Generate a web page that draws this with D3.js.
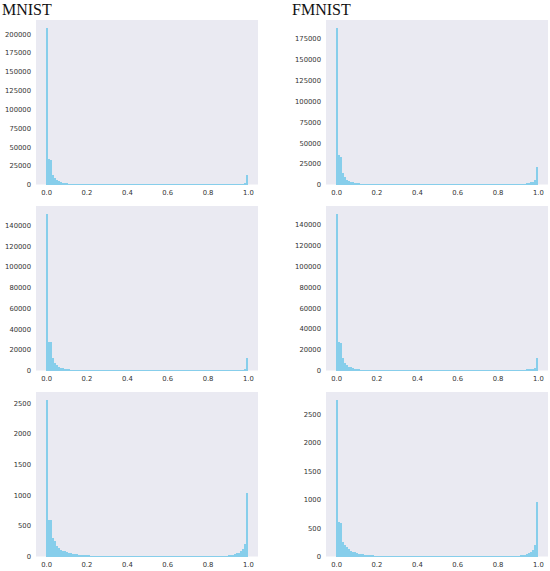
<!DOCTYPE html>
<html>
<head>
<meta charset="utf-8">
<script src="https://cdn.jsdelivr.net/npm/d3@7"></script>
<style>
  html, body { margin: 0; padding: 0; background: #ffffff; }
  svg { display: block; }
</style>
</head>
<body>
<svg id="chart" width="550" height="571"></svg>
<script>
// ---------- DATA (100 bins on [0,1], bin width 0.01) ----------
const binEdgesStart = 0, binEdgesEnd = 1, binCount = 100;

const mnistTop = [
  208000, 34000, 33000, 13000, 8000, 5500, 4000, 3000, 2300, 1800,
  1400, 1100, 900, 700, 560, 450, 360, 290, 230, 180,
  150, 120, 100, 85, 70, 60, 50, 42, 36, 30,
  26, 22, 19, 16, 14, 12, 10, 9, 8, 7,
  6, 6, 5, 5, 4, 4, 4, 3, 3, 3,
  3, 3, 3, 3, 3, 3, 3, 3, 3, 3,
  3, 3, 3, 3, 4, 4, 4, 4, 5, 5,
  5, 6, 6, 7, 8, 9, 10, 11, 13, 15,
  18, 21, 25, 30, 36, 44, 54, 66, 82, 100,
  125, 160, 200, 260, 340, 460, 650, 1000, 2000, 13000
];
const fmnistTop = [
  188000, 35000, 33500, 14000, 8500, 6000, 4500, 3400, 2600, 2000,
  1600, 1250, 1000, 800, 640, 510, 410, 330, 260, 210,
  170, 140, 115, 95, 80, 66, 55, 46, 38, 32,
  27, 23, 20, 17, 15, 13, 11, 10, 9, 8,
  7, 7, 6, 6, 6, 5, 5, 5, 5, 5,
  5, 5, 5, 5, 5, 5, 5, 5, 6, 6,
  6, 6, 7, 7, 8, 8, 9, 10, 11, 12,
  13, 15, 17, 19, 22, 25, 29, 34, 40, 48,
  57, 68, 82, 100, 120, 150, 185, 230, 290, 370,
  470, 600, 800, 1050, 1400, 1900, 2700, 3500, 5500, 20500
];
const mnistMid = [
  151000, 27500, 27000, 12500, 7000, 5000, 3700, 2800, 2100, 1600,
  1250, 1000, 800, 640, 510, 410, 330, 260, 210, 170,
  140, 115, 95, 80, 66, 55, 46, 38, 32, 27,
  23, 20, 17, 15, 13, 11, 10, 9, 8, 7,
  6, 6, 5, 5, 4, 4, 4, 3, 3, 3,
  3, 3, 3, 3, 3, 3, 3, 3, 3, 3,
  3, 3, 3, 3, 4, 4, 4, 4, 5, 5,
  5, 6, 6, 7, 8, 9, 10, 11, 13, 15,
  18, 21, 25, 30, 36, 44, 54, 66, 82, 100,
  125, 160, 200, 250, 320, 420, 600, 850, 1500, 11600
];
const fmnistMid = [
  150000, 27000, 26500, 12000, 7500, 5000, 3800, 2900, 2200, 1700,
  1300, 1050, 850, 680, 540, 430, 350, 280, 225, 180,
  145, 120, 100, 82, 68, 57, 48, 40, 34, 29,
  25, 21, 18, 16, 14, 12, 11, 10, 9, 8,
  7, 7, 6, 6, 6, 5, 5, 5, 5, 5,
  5, 5, 5, 5, 5, 5, 5, 5, 6, 6,
  6, 6, 7, 7, 8, 8, 9, 10, 11, 12,
  13, 15, 17, 19, 22, 25, 29, 34, 40, 48,
  57, 68, 82, 100, 120, 145, 175, 215, 265, 330,
  410, 510, 640, 800, 1000, 1250, 1550, 1900, 2500, 12100
];
const mnistBot = [
  2550, 600, 590, 300, 260, 175, 135, 108, 92, 82,
  72, 63, 55, 48, 42, 37, 32, 28, 25, 22,
  20, 18, 16, 14, 13, 12, 11, 10, 9, 9,
  8, 8, 7, 7, 7, 6, 6, 6, 6, 5,
  5, 5, 5, 5, 5, 5, 5, 5, 5, 5,
  5, 5, 5, 5, 5, 5, 5, 5, 5, 5,
  5, 5, 5, 5, 5, 5, 5, 5, 5, 6,
  6, 6, 6, 6, 7, 7, 7, 8, 8, 8,
  9, 9, 10, 10, 11, 12, 12, 13, 14, 15,
  17, 20, 28, 38, 50, 65, 85, 120, 200, 1035
];
const fmnistBot = [
  2750, 600, 580, 250, 200, 160, 125, 100, 85, 72,
  60, 50, 43, 37, 32, 28, 24, 21, 18, 16,
  15, 14, 13, 12, 11, 10, 9, 9, 8, 8,
  7, 7, 7, 6, 6, 6, 6, 5, 5, 5,
  5, 5, 5, 5, 5, 5, 5, 5, 5, 5,
  5, 5, 5, 5, 5, 5, 5, 5, 5, 5,
  5, 5, 5, 5, 5, 5, 5, 5, 5, 6,
  6, 6, 6, 6, 7, 7, 7, 8, 8, 8,
  9, 9, 10, 10, 11, 12, 12, 13, 14, 15,
  17, 20, 26, 35, 45, 60, 80, 120, 200, 950
];

const xTickValues = [0, 0.2, 0.4, 0.6, 0.8, 1.0];
const yTicksTop = [0, 25000, 50000, 75000, 100000, 125000, 150000, 175000, 200000];
const yTicksTopR = [0, 25000, 50000, 75000, 100000, 125000, 150000, 175000];
const yTicksMid = [0, 20000, 40000, 60000, 80000, 100000, 120000, 140000];
const yTicksBot = [0, 500, 1000, 1500, 2000, 2500];
const columnTitles = ["MNIST", "FMNIST"];

// ---------- LAYOUT ----------
const panels = [
  { data: mnistTop,  ticks: yTicksTop,  col: 0, row: 0 },
  { data: fmnistTop, ticks: yTicksTopR, col: 1, row: 0 },
  { data: mnistMid,  ticks: yTicksMid,  col: 0, row: 1 },
  { data: fmnistMid, ticks: yTicksMid,  col: 1, row: 1 },
  { data: mnistBot,  ticks: yTicksBot,  col: 0, row: 2 },
  { data: fmnistBot, ticks: yTicksBot,  col: 1, row: 2 }
];
const colX = [36, 326];
const rowY = [20, 206, 392];
const plotW = 222, plotH = 164.5;

const svg = d3.select("#chart");
const tickFont = "DejaVu Sans, sans-serif";

panels.forEach(p => {
  const g = svg.append("g").attr("transform", `translate(${colX[p.col]},${rowY[p.row]})`);
  const x = d3.scaleLinear().domain([-0.05, 1.05]).range([0, plotW]);
  const ymax = d3.max(p.data) * 1.05;
  const y = d3.scaleLinear().domain([0, ymax]).range([plotH, 0]);

  g.append("rect").attr("width", plotW).attr("height", plotH).attr("fill", "#EAEAF2");

  const bw = (binEdgesEnd - binEdgesStart) / binCount;
  g.selectAll("rect.bar").data(p.data).enter().append("rect")
    .attr("class", "bar")
    .attr("x", (d, i) => x(binEdgesStart + i * bw))
    .attr("width", (d, i) => x(binEdgesStart + (i + 1) * bw) - x(binEdgesStart + i * bw))
    .attr("y", d => y(d))
    .attr("height", d => plotH - y(d))
    .attr("fill", "#87CEEB")
    .attr("shape-rendering", "crispEdges");

  const xAxis = d3.axisBottom(x).tickValues(xTickValues).tickFormat(d3.format(".1f")).tickSize(0).tickPadding(6);
  const xa = g.append("g").attr("transform", `translate(0,${plotH})`).call(xAxis);
  const yAxis = d3.axisLeft(y).tickValues(p.ticks).tickFormat(d3.format("d")).tickSize(0).tickPadding(5);
  const ya = g.append("g").call(yAxis);
  [xa, ya].forEach(a => {
    a.select(".domain").remove();
    a.selectAll("text").attr("font-family", tickFont).attr("font-size", "6.8px").attr("fill", "#333333");
  });
});

columnTitles.forEach((t, i) => {
  svg.append("text")
    .attr("x", i === 0 ? 2 : 292)
    .attr("y", 15)
    .attr("font-family", "Liberation Serif, serif")
    .attr("font-size", "16px")
    .attr("fill", "#111111")
    .text(t);
});
</script>
</body>
</html>
